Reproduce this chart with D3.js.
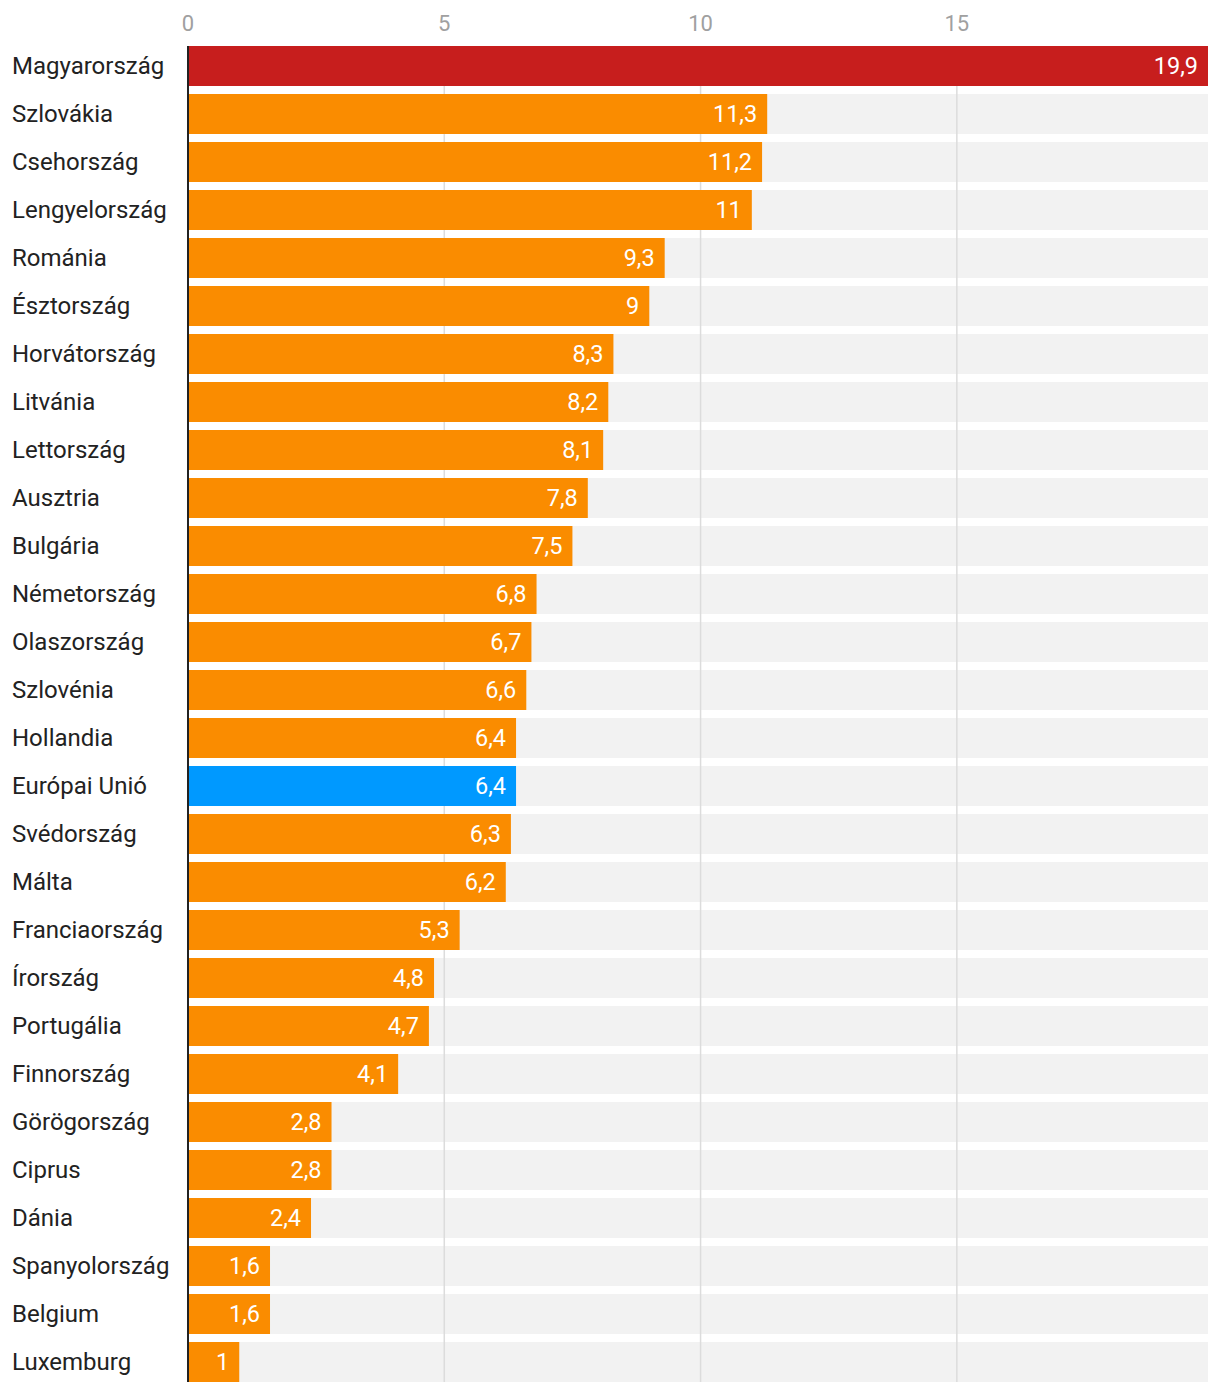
<!DOCTYPE html>
<html><head><meta charset="utf-8">
<script src="https://cdn.jsdelivr.net/npm/d3@7"></script>
<style>body{margin:0;background:#fff;} text{font-family:Roboto, sans-serif;}</style>
</head><body><svg id="c" width="1220" height="1392"></svg>
<script>
const countries = ["Magyarország","Szlovákia","Csehország","Lengyelország","Románia","Észtország","Horvátország","Litvánia","Lettország","Ausztria","Bulgária","Németország","Olaszország","Szlovénia","Hollandia","Európai Unió","Svédország","Málta","Franciaország","Írország","Portugália","Finnország","Görögország","Ciprus","Dánia","Spanyolország","Belgium","Luxemburg"];
const values = [19.9,11.3,11.2,11,9.3,9,8.3,8.2,8.1,7.8,7.5,6.8,6.7,6.6,6.4,6.4,6.3,6.2,5.3,4.8,4.7,4.1,2.8,2.8,2.4,1.6,1.6,1];
const ticks = [0,5,10,15];
const highlight = {"Magyarország":"#c71e1d","Európai Unió":"#0099ff"};
const baseColor = "#fa8c00";

const svg = d3.select("#c");
const x = d3.scaleLinear().domain([0,19.9]).range([188,1208]);
const y = d3.scaleBand().domain(countries).range([46,1382]).paddingInner(1/6).paddingOuter(0);
const data = countries.map((c,i)=>({c, v:values[i]}));
const fmt = v => String(v).replace(".",",");

svg.append("g").selectAll("rect").data(data).join("rect")
  .attr("x",x(0)).attr("width",x(19.9)-x(0))
  .attr("y",d=>y(d.c)).attr("height",y.bandwidth()).attr("fill","#f2f2f2");

const yTop = y(countries[0]), yBottom = y(countries[countries.length-1])+y.bandwidth();
svg.append("g").selectAll("line").data(ticks.filter(t=>t>0)).join("line")
  .attr("x1",d=>x(d)).attr("x2",d=>x(d)).attr("y1",yTop).attr("y2",yBottom)
  .attr("stroke","#dcdcdc").attr("stroke-width",1.5);

svg.append("g").selectAll("text").data(ticks).join("text")
  .attr("x",d=>x(d)).attr("y",31).attr("text-anchor","middle")
  .attr("font-size",22).attr("fill","#a0a0a0").text(d=>d);

svg.append("g").selectAll("rect").data(data).join("rect")
  .attr("x",x(0)).attr("width",d=>x(d.v)-x(0))
  .attr("y",d=>y(d.c)).attr("height",y.bandwidth())
  .attr("fill",d=>highlight[d.c]||baseColor);

svg.append("g").selectAll("text").data(data).join("text")
  .attr("x",d=>x(d.v)-10).attr("y",d=>y(d.c)+y.bandwidth()/2).attr("dy","0.35em")
  .attr("text-anchor","end").attr("font-size",23.5).attr("fill","#fff").text(d=>fmt(d.v));

svg.append("g").selectAll("text").data(data).join("text")
  .attr("x",12).attr("y",d=>y(d.c)+y.bandwidth()/2).attr("dy","0.35em")
  .attr("font-size",24).attr("fill","#222").text(d=>d.c);

svg.append("line").attr("x1",x(0)).attr("x2",x(0)).attr("y1",yTop).attr("y2",yBottom)
  .attr("stroke","#222").attr("stroke-width",2);
</script></body></html>
